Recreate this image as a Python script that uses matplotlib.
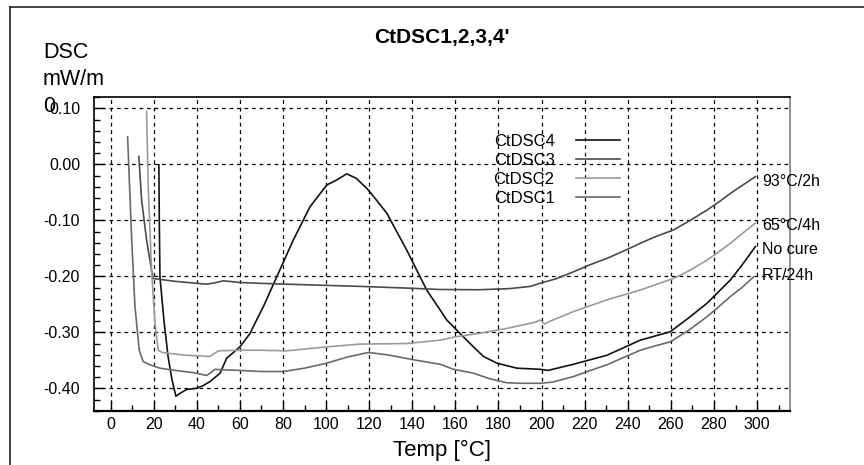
import matplotlib
matplotlib.use("Agg")
import matplotlib.pyplot as plt
from matplotlib.lines import Line2D
from matplotlib.ticker import MultipleLocator, FuncFormatter

plt.rcParams['font.family'] = ['Liberation Sans', 'DejaVu Sans']

# CtDSC4 - no cure (black)
x4 = [22.4, 22.6, 22.9, 24.8, 26.7, 28.5, 30.3, 32.2, 35.3, 39.9, 43.0, 46.1, 50.8,
      53.9, 57.0, 60.0, 64.7, 67.5, 70.9, 77.1, 84.8, 92.5, 100.3, 104.9, 109.6,
      114.0, 118.9, 123.0, 128.2, 137.4, 146.7, 152.9, 156.0, 163.7, 168.4, 173.0,
      179.2, 188.5, 199.3, 203.0, 214.8, 230.3, 245.8, 259.7, 268.0, 276.8, 287.6,
      293.0, 299.2]
y4 = [-0.001, -0.100, -0.201, -0.280, -0.344, -0.385, -0.414, -0.409, -0.402, -0.400,
      -0.395, -0.388, -0.373, -0.346, -0.336, -0.326, -0.302, -0.280, -0.254, -0.201,
      -0.135, -0.076, -0.037, -0.028, -0.017, -0.025, -0.043, -0.062, -0.0875, -0.153,
      -0.2245, -0.260, -0.278, -0.308, -0.326, -0.343, -0.355, -0.364, -0.366, -0.368,
      -0.357, -0.341, -0.314, -0.299, -0.275, -0.248, -0.2066, -0.180, -0.147]

# CtDSC3 - 93°C/2h (dark grey)
x3 = [13.1, 14.4, 16.7, 19.0, 19.8, 22.1, 30.0, 39.9, 44.6, 48.0, 52.3, 60.0, 69.3,
      90.0, 115.8, 137.4, 152.9, 170.7, 185.0, 194.7, 199.3, 207.0, 214.8, 222.0,
      230.3, 238.0, 245.8, 253.0, 261.3, 269.0, 276.8, 282.0, 287.6, 293.0, 299.2]
y3 = [0.014, -0.064, -0.135, -0.189, -0.204, -0.205, -0.209, -0.2125, -0.214, -0.212,
      -0.208, -0.211, -0.2125, -0.215, -0.218, -0.221, -0.2235, -0.224, -0.222, -0.218,
      -0.2125, -0.204, -0.192, -0.180, -0.168, -0.155, -0.141, -0.129, -0.117, -0.100,
      -0.0816, -0.068, -0.052, -0.038, -0.022]

# CtDSC2 - 65°C/4h (light grey)
x2 = [16.7, 17.5, 18.3, 19.0, 20.6, 22.1, 24.0, 26.0, 35.0, 46.1, 50.0, 60.0, 69.3,
      81.7, 100.3, 115.8, 137.4, 152.9, 160.0, 170.7, 183.9, 197.0, 199.3, 201.5,
      204.0, 214.8, 230.3, 245.8, 261.3, 269.0, 276.8, 282.0, 287.6, 293.0, 299.2]
y2 = [0.094, -0.046, -0.120, -0.189, -0.284, -0.332, -0.336, -0.337, -0.341, -0.343,
      -0.333, -0.332, -0.332, -0.333, -0.326, -0.321, -0.320, -0.314, -0.308, -0.302,
      -0.293, -0.282, -0.278, -0.285, -0.280, -0.263, -0.242, -0.2245, -0.2036, -0.189,
      -0.171, -0.157, -0.141, -0.124, -0.105]

# CtDSC1 - RT/24h (medium grey)
x1 = [7.9, 9.8, 11.3, 13.3, 15.1, 18.2, 22.9, 30.0, 38.4, 44.6, 46.5, 48.4, 52.3,
      60.0, 70.0, 80.2, 90.0, 100.3, 110.0, 119.6, 128.2, 140.5, 152.9, 159.1, 168.4,
      176.0, 183.9, 190.0, 199.3, 205.0, 214.8, 222.0, 230.3, 238.0, 245.8, 252.0,
      259.7, 268.0, 276.8, 282.0, 287.6, 293.0, 298.4]
y1 = [0.049, -0.135, -0.254, -0.332, -0.352, -0.358, -0.364, -0.368, -0.372, -0.377,
      -0.372, -0.366, -0.367, -0.368, -0.370, -0.370, -0.364, -0.355, -0.344, -0.336,
      -0.340, -0.349, -0.357, -0.366, -0.373, -0.383, -0.390, -0.391, -0.391, -0.389,
      -0.379, -0.369, -0.358, -0.345, -0.332, -0.325, -0.317, -0.297, -0.272, -0.255,
      -0.236, -0.220, -0.201]

end_labels = ["93°C/2h", "65°C/4h", "No cure", "RT/24h"]
end_label_y = [-0.031, -0.110, -0.152, -0.198]

fig = plt.figure(figsize=(8.64, 4.65), dpi=100)
ax = fig.add_axes([0.1088, 0.1161, 0.8056, 0.6753])

lw = 1.2
ax.plot(x4, y4, color='#111111', lw=lw, label='CtDSC4')
ax.plot(x3, y3, color='#4a4a4a', lw=lw, label='CtDSC3')
ax.plot(x2, y2, color='#9a9a9a', lw=lw, label='CtDSC2')
ax.plot(x1, y1, color='#6a6a6a', lw=lw, label='CtDSC1')

ax.set_xlim(-7.7, 315.3)
ax.set_ylim(-0.4405, 0.1202)

ax.xaxis.set_major_locator(MultipleLocator(20))
ax.xaxis.set_minor_locator(MultipleLocator(10))
ax.yaxis.set_major_locator(MultipleLocator(0.1))
ax.yaxis.set_minor_locator(MultipleLocator(0.02))
ax.yaxis.set_major_formatter(FuncFormatter(lambda v, p: f"{v:.2f}".replace("-0.00", "0.00")))

ax.tick_params(which='both', direction='in', top=False, right=False, colors='black')
ax.tick_params(which='major', length=7, width=1, labelsize=11.5)
ax.tick_params(which='minor', length=4, width=1)
ax.tick_params(axis='y', pad=10)
ax.tick_params(axis='x', pad=4)

ax.grid(True, which='major', color='black', linestyle=(0, (3, 3)), linewidth=0.9)

for s in ['left', 'top', 'bottom']:
    ax.spines[s].set_color('black')
    ax.spines[s].set_linewidth(1.2)
ax.spines['bottom'].set_linewidth(1.6)
ax.spines['right'].set_color('#808080')
ax.spines['right'].set_linewidth(1.2)

ax.set_title("CtDSC1,2,3,4'", fontsize=15, fontweight='bold', pad=39)
ax.set_xlabel("Temp [°C]", fontsize=16, labelpad=6)

fig.text(43 / 864, 1 - 42 / 465, "DSC\nmW/m\n0", fontsize=15.5, va='top', ha='left',
         linespacing=1.38)

for lab, yy in zip(end_labels, end_label_y):
    ax.text(302.3, yy, lab, fontsize=11.5, va='center', ha='left', clip_on=False)

leg = ax.legend(loc='upper left', bbox_to_anchor=(0.574, 0.882), frameon=False,
                markerfirst=False, fontsize=12, handlelength=2.64, handletextpad=1.3,
                labelspacing=0.23, borderpad=0, borderaxespad=0)

# outer frame lines of the original export
fig.add_artist(Line2D([10 / 864, 1], [1 - 7 / 465, 1 - 7 / 465], color='#222222', lw=1.2,
                      transform=fig.transFigure))
fig.add_artist(Line2D([10 / 864, 10 / 864], [0, 1 - 7 / 465], color='#222222', lw=1.2,
                      transform=fig.transFigure))

fig.savefig("out.png", dpi=100)
